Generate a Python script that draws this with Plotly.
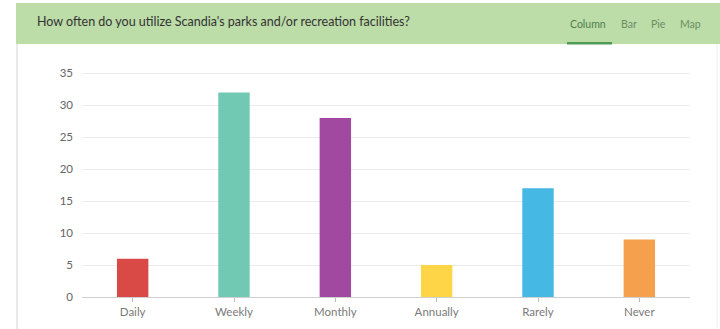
import plotly.graph_objects as go

categories = ["Daily", "Weekly", "Monthly", "Annually", "Rarely", "Never"]
responses = [6, 32, 28, 5, 17, 9]
bar_colors = ["#d94a47", "#72c9b3", "#a148a1", "#fdd547", "#45b9e3", "#f4a04c"]
y_ticks = [0, 5, 10, 15, 20, 25, 30, 35]
view_tabs = ["Column", "Bar", "Pie", "Map"]
tab_x = [588, 629, 658, 690]

W, H = 720, 329
ML, MR, MT, MB = 82, 30, 72, 32
PW, PH = W - ML - MR, H - MT - MB

fig = go.Figure(
    go.Bar(
        x=categories,
        y=responses,
        marker=dict(color=bar_colors, line=dict(width=0)),
        hoverinfo="x+y",
    )
)


# convert page pixels to paper coordinates (paper spans the plot area)
def px_x(v):
    return (v - ML) / PW


def px_y(v):
    return (H - MB - v) / PH


shapes = [
    # header band
    dict(type="rect", xref="paper", yref="paper",
         x0=px_x(16), x1=px_x(720), y0=px_y(44), y1=px_y(3),
         fillcolor="#bcdca8", line=dict(width=0), layer="below"),
    # active tab underline
    dict(type="rect", xref="paper", yref="paper",
         x0=px_x(567), x1=px_x(612), y0=px_y(44.5), y1=px_y(42),
         fillcolor="#4e9a55", line=dict(width=0)),
    # panel left edge
    dict(type="line", xref="paper", yref="paper",
         x0=px_x(17), x1=px_x(17), y0=px_y(329), y1=px_y(44),
         line=dict(color="#d4d4d4", width=1)),
    # panel right edge
    dict(type="line", xref="paper", yref="paper",
         x0=px_x(717), x1=px_x(717), y0=px_y(329), y1=px_y(44),
         line=dict(color="#eeeeee", width=1)),
]

annotations = [
    dict(text="How often do you utilize Scandia's parks and/or recreation facilities?",
         xref="paper", yref="paper", x=px_x(35), y=px_y(22),
         xanchor="left", yanchor="middle", showarrow=False,
         font=dict(family="Lato, Open Sans, sans-serif", size=12.5, color="#333333")),
]
for name, cx in zip(view_tabs, tab_x):
    annotations.append(
        dict(text=name, xref="paper", yref="paper", x=px_x(cx), y=px_y(24),
             xanchor="center", yanchor="middle", showarrow=False,
             font=dict(family="Lato, Open Sans, sans-serif", size=10.5,
                       color="#4c7f4c" if name == "Column" else "#6a8f64"))
    )

fig.update_layout(
    width=W, height=H,
    margin=dict(l=ML, r=MR, t=MT, b=MB, pad=0),
    paper_bgcolor="white",
    plot_bgcolor="white",
    bargap=0.69,
    showlegend=False,
    shapes=shapes,
    annotations=annotations,
    font=dict(family="Lato, Open Sans, sans-serif", color="#777777"),
    xaxis=dict(
        showgrid=False, showline=False, zeroline=False,
        ticks="outside", ticklen=4, tickcolor="#bbbbbb", tickwidth=1,
        tickfont=dict(size=11.5, color="#7a7a7a"),
        fixedrange=True,
    ),
    yaxis=dict(
        range=[0, 35.2], tickvals=y_ticks,
        showgrid=True, gridcolor="#ececec", gridwidth=1,
        zeroline=True, zerolinecolor="#d0d0d0", zerolinewidth=1,
        showline=False, ticks="", ticklabelstandoff=8,
        tickfont=dict(size=11.5, color="#666666"),
        fixedrange=True,
    ),
)

fig.write_html("out.html")
